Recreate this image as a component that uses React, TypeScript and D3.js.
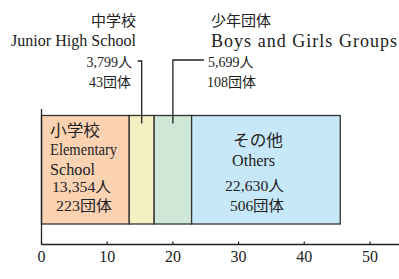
import * as d3 from 'd3';

const categoriesJa = ['小学校', '中学校', '少年団体', 'その他'];
const categoriesEn = ['Elementary School', 'Junior High School', 'Boys and Girls Groups', 'Others'];
const members = [13354, 3799, 5699, 22630];
const groupCounts = [223, 43, 108, 506];
const colors = ['#fbd3b3', '#f4f0c2', '#cfe7d7', '#c7e8f8'];
const xTicks = [0, 10, 20, 30, 40, 50];

const serif = "'Liberation Serif', 'Noto Sans CJK JP', serif";
const fmt = d3.format(',');

function Label(props: { x: number; y: number; size: number; w?: number; anchor?: string; adjust?: string; children: any }) {
  const { x, y, size, w, anchor, adjust, children } = props;
  return (
    <text x={x} y={y} fontSize={size} textAnchor={anchor || 'start'}
      textLength={w} lengthAdjust={w ? (adjust || 'spacingAndGlyphs') : undefined}>
      {children}
    </text>
  );
}

export default function App() {
  const width = 399;
  const height = 279;
  const x = d3.scaleLinear().domain([0, 54.5]).range([41.5, 399.5]);
  const y = d3.scaleBand().domain(['all']).range([115.5, 224]).padding(0);
  const axisY = 244.5;

  // cumulative starts (in thousands)
  const starts = members.map((_, i) => d3.sum(members.slice(0, i)) / 1000);
  const ends = members.map((_, i) => d3.sum(members.slice(0, i + 1)) / 1000);
  const mid = (i: number) => x((starts[i] + ends[i]) / 2);
  const barTop = y('all') as number;
  const barH = y.bandwidth();

  const jhX = mid(1);
  const bgX = mid(2);

  return (
    <svg width={width} height={height} style={{ position: 'absolute', left: 0, top: 0, fontFamily: serif }}
      fill="#222">
      {/* bars */}
      {members.map((_, i) => (
        <rect key={i} x={x(starts[i])} y={barTop} width={x(ends[i]) - x(starts[i])} height={barH}
          fill={colors[i]} stroke="#333" strokeWidth={1.3} />
      ))}

      {/* axes */}
      <line x1={x(0)} x2={x(0)} y1={109} y2={axisY} stroke="#222" strokeWidth={1.3} />
      <line x1={x(0)} x2={399} y1={axisY} y2={axisY} stroke="#222" strokeWidth={1.3} />
      {xTicks.map(t => (
        <g key={t}>
          <line x1={x(t)} x2={x(t)} y1={axisY - 3} y2={axisY} stroke="#222" strokeWidth={1.2} />
          <text x={x(t)} y={262} textAnchor="middle" fontSize={16}>{t}</text>
        </g>
      ))}

      {/* leader lines */}
      <path d={`M${jhX - 4},61 H${jhX} V${barTop + 8}`} fill="none" stroke="#222" strokeWidth={1.3} />
      <path d={`M${bgX + 31},60 H${bgX} V${barTop + 8}`} fill="none" stroke="#222" strokeWidth={1.3} />

      {/* Junior High labels */}
      <Label x={136} y={26} size={15} anchor="end">{categoriesJa[1]}</Label>
      <Label x={136} y={46} size={16} w={125} anchor="end">{categoriesEn[1]}</Label>
      <Label x={132} y={67} size={14} anchor="end">{fmt(members[1])}人</Label>
      <Label x={131} y={87} size={14} anchor="end">{groupCounts[1]}団体</Label>

      {/* Boys and Girls labels */}
      <Label x={211} y={26} size={15}>{categoriesJa[2]}</Label>
      <Label x={211} y={47} size={18} w={186} adjust="spacing">{categoriesEn[2]}</Label>
      <Label x={208} y={67} size={14}>{fmt(members[2])}人</Label>
      <Label x={207} y={87} size={14}>{groupCounts[2]}団体</Label>

      {/* Elementary labels */}
      <Label x={50} y={136} size={16} w={50}>{categoriesJa[0]}</Label>
      <Label x={50} y={155} size={16} w={67}>{categoriesEn[0].split(' ')[0]}</Label>
      <Label x={50} y={175} size={16} w={45}>{categoriesEn[0].split(' ')[1]}</Label>
      <Label x={52} y={192} size={15} w={59}>{fmt(members[0])}人</Label>
      <Label x={56} y={211} size={15} w={56}>{groupCounts[0]}団体</Label>

      {/* Others labels */}
      <Label x={233} y={146} size={16} w={50}>{categoriesJa[3]}</Label>
      <Label x={232} y={166} size={16} w={43}>{categoriesEn[3]}</Label>
      <Label x={225} y={191} size={15} w={59}>{fmt(members[3])}人</Label>
      <Label x={230} y={211} size={15} w={54}>{groupCounts[3]}団体</Label>
    </svg>
  );
}
